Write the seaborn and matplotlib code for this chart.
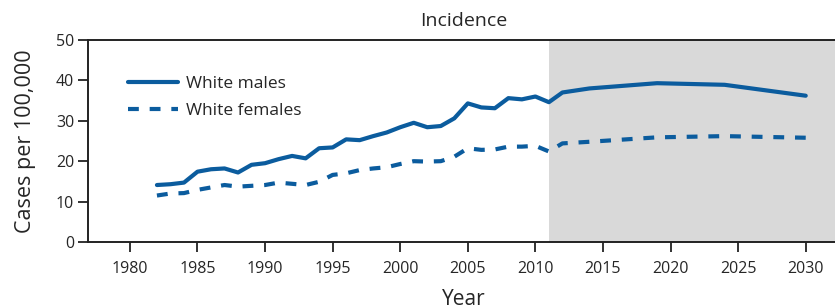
import matplotlib
matplotlib.use("Agg")
import matplotlib.pyplot as plt
import numpy as np
import pandas as pd
import seaborn as sns

# observed (1982-2011) + projected vertices (2012-2030)
male_years = [1982, 1983, 1984, 1985, 1986, 1987, 1988, 1989, 1990, 1991, 1992, 1993,
              1994, 1995, 1996, 1997, 1998, 1999, 2000, 2001, 2002, 2003, 2004, 2005,
              2006, 2007, 2008, 2009, 2010, 2011, 2012, 2014, 2019, 2024, 2030]
male_rates = [14.1, 14.3, 14.7, 17.4, 18.0, 18.2, 17.2, 19.1, 19.5, 20.5, 21.3, 20.7,
              23.2, 23.4, 25.4, 25.2, 26.2, 27.1, 28.4, 29.5, 28.4, 28.7, 30.6, 34.3,
              33.3, 33.1, 35.6, 35.3, 36.0, 34.6, 37.0, 38.0, 39.3, 38.9, 36.2]

female_years = [1982, 1983, 1984, 1985, 1986, 1987, 1988, 1989, 1990, 1991, 1992, 1993,
                1994, 1995, 1996, 1997, 1998, 1999, 2000, 2001, 2002, 2003, 2004, 2005,
                2006, 2007, 2008, 2009, 2010, 2011, 2012, 2014, 2019, 2024, 2030]
female_rates = [11.5, 12.0, 12.1, 12.9, 13.5, 14.1, 13.7, 13.9, 14.1, 14.7, 14.4, 14.1,
                14.9, 16.6, 17.0, 17.8, 18.2, 18.5, 19.3, 20.0, 19.9, 20.0, 21.1, 23.2,
                22.8, 22.9, 23.6, 23.6, 23.8, 22.4, 24.4, 24.8, 25.9, 26.2, 25.8]

projection_start = 2011
x_ticks = list(range(1980, 2031, 5))
y_ticks = list(range(0, 51, 10))

BLUE = "#0b5c9e"
LW = 3.0

sns.set_theme(style="white")
plt.rcParams["font.family"] = ["Liberation Sans Narrow", "Open Sans", "DejaVu Sans"]

df = pd.concat([
    pd.DataFrame({"Year": male_years, "Rate": male_rates, "Group": "White males"}),
    pd.DataFrame({"Year": female_years, "Rate": female_rates, "Group": "White females"}),
])

fig = plt.figure(figsize=(8.35, 3.08), dpi=100)
ax = fig.add_axes([0.1054, 0.2143, 0.9, 0.656])

ax.axvspan(projection_start, 2040, color="#d9d9d9", zorder=0, lw=0)

sns.lineplot(data=df[df.Group == "White males"], x="Year", y="Rate", color=BLUE,
             lw=LW, label="White males", ax=ax)
sns.lineplot(data=df[df.Group == "White females"], x="Year", y="Rate", color=BLUE,
             lw=LW, label="White females", ax=ax)
ax.lines[1].set_linestyle((0, (2.6, 2.6)))
ax.lines[1].set_dash_capstyle("butt")

ax.set_xlim(1976.9, 2032.5)
ax.set_ylim(0, 50)
ax.set_xticks(x_ticks)
ax.set_yticks(y_ticks)
ax.tick_params(axis="both", direction="out", length=7, width=1.3, color="#222222",
               labelsize=11.5, bottom=True, left=True)
ax.tick_params(axis="x", pad=7)
ax.tick_params(axis="y", pad=3)
for side in ["left", "bottom", "top"]:
    ax.spines[side].set_color("#222222")
    ax.spines[side].set_linewidth(1.4)
ax.spines["right"].set_visible(False)

ax.set_title("Incidence", fontsize=14, pad=10)
ax.set_xlabel("Year", fontsize=15, labelpad=8)
ax.set_ylabel("Cases per 100,000", fontsize=15.5, labelpad=14)

leg = ax.legend(loc="upper left", bbox_to_anchor=(0.032, 0.9), frameon=False,
                fontsize=12.5, handlelength=2.9, handletextpad=0.45, labelspacing=0.65)
for h in leg.get_lines():
    h.set_linewidth(LW)
leg.get_lines()[1].set_linestyle((0, (2.6, 2.6)))

fig.savefig("out.png", dpi=100)
